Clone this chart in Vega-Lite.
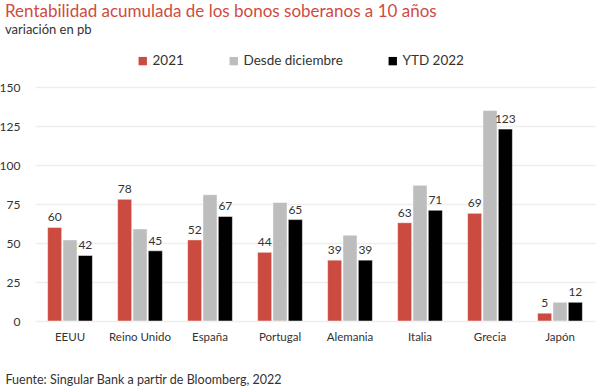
{
  "$schema": "https://vega.github.io/schema/vega-lite/v6.json",
  "width": 560,
  "height": 234,
  "autosize": {"type": "none"},
  "padding": {"left": 35, "top": 87, "right": 5, "bottom": 69},
  "background": "white",
  "config": {
    "font": "Lato",
    "view": {"stroke": null}
  },
  "title": {
    "text": "Rentabilidad acumulada de los bonos soberanos a 10 años",
    "subtitle": "variación en pb",
    "anchor": "start",
    "frame": "group",
    "orient": "top",
    "dx": -30,
    "offset": 16,
    "fontSize": 17,
    "fontWeight": "normal",
    "color": "#D04A3F",
    "subtitleFontSize": 13,
    "subtitleColor": "#333333",
    "subtitlePadding": 3
  },
  "data": {
    "values": [
      {"pais": "EEUU", "serie": "2021", "valor": 60},
      {"pais": "EEUU", "serie": "Desde diciembre", "valor": 52},
      {"pais": "EEUU", "serie": "YTD 2022", "valor": 42},
      {"pais": "Reino Unido", "serie": "2021", "valor": 78},
      {"pais": "Reino Unido", "serie": "Desde diciembre", "valor": 59},
      {"pais": "Reino Unido", "serie": "YTD 2022", "valor": 45},
      {"pais": "España", "serie": "2021", "valor": 52},
      {"pais": "España", "serie": "Desde diciembre", "valor": 81},
      {"pais": "España", "serie": "YTD 2022", "valor": 67},
      {"pais": "Portugal", "serie": "2021", "valor": 44},
      {"pais": "Portugal", "serie": "Desde diciembre", "valor": 76},
      {"pais": "Portugal", "serie": "YTD 2022", "valor": 65},
      {"pais": "Alemania", "serie": "2021", "valor": 39},
      {"pais": "Alemania", "serie": "Desde diciembre", "valor": 55},
      {"pais": "Alemania", "serie": "YTD 2022", "valor": 39},
      {"pais": "Italia", "serie": "2021", "valor": 63},
      {"pais": "Italia", "serie": "Desde diciembre", "valor": 87},
      {"pais": "Italia", "serie": "YTD 2022", "valor": 71},
      {"pais": "Grecia", "serie": "2021", "valor": 69},
      {"pais": "Grecia", "serie": "Desde diciembre", "valor": 135},
      {"pais": "Grecia", "serie": "YTD 2022", "valor": 123},
      {"pais": "Japón", "serie": "2021", "valor": 5},
      {"pais": "Japón", "serie": "Desde diciembre", "valor": 12},
      {"pais": "Japón", "serie": "YTD 2022", "valor": 12}
    ]
  },
  "encoding": {
    "x": {
      "field": "pais",
      "type": "nominal",
      "sort": null,
      "scale": {"paddingInner": 0.36, "paddingOuter": 0.18},
      "axis": {
        "labelAngle": 0,
        "labelFontSize": 11.5,
        "labelColor": "#333333",
        "labelPadding": 10,
        "ticks": false,
        "domain": false,
        "title": "Fuente: Singular Bank a partir de Bloomberg, 2022",
        "titleAnchor": "start",
        "titleAlign": "left",
        "titleX": -30,
        "titleY": 52,
        "titleFontSize": 12.5,
        "titleFontWeight": "normal",
        "titleColor": "#333333"
      }
    },
    "xOffset": {"field": "serie", "type": "nominal", "scale": {"paddingInner": 0.08}},
    "y": {
      "field": "valor",
      "type": "quantitative",
      "scale": {"domain": [0, 150], "nice": false},
      "axis": {
        "values": [0, 25, 50, 75, 100, 125, 150],
        "title": null,
        "domain": false,
        "ticks": false,
        "labelPadding": 15,
        "labelFontSize": 12,
        "labelColor": "#333333",
        "gridColor": "#EEEEEE",
        "gridWidth": 1.5
      }
    }
  },
  "layer": [
    {
      "mark": {"type": "bar", "stroke": "white", "strokeWidth": 0.5},
      "encoding": {
        "color": {
          "field": "serie",
          "type": "nominal",
          "scale": {
            "domain": ["2021", "Desde diciembre", "YTD 2022"],
            "range": ["#CB4B40", "#BDBDBD", "#000000"]
          },
          "legend": {
            "title": null,
            "orient": "none",
            "direction": "horizontal",
            "legendX": 101,
            "legendY": -33,
            "symbolType": "square",
            "symbolSize": 70,
            "symbolStrokeWidth": 0,
            "labelFontSize": 13.5,
            "labelColor": "#333333",
            "columnPadding": 43,
            "labelOffset": 3
          }
        }
      }
    },
    {
      "transform": [{"filter": "datum.serie !== 'Desde diciembre'"}],
      "mark": {"type": "text", "dy": -10, "fontSize": 12, "color": "#333333"},
      "encoding": {"text": {"field": "valor", "type": "quantitative"}}
    }
  ]
}
